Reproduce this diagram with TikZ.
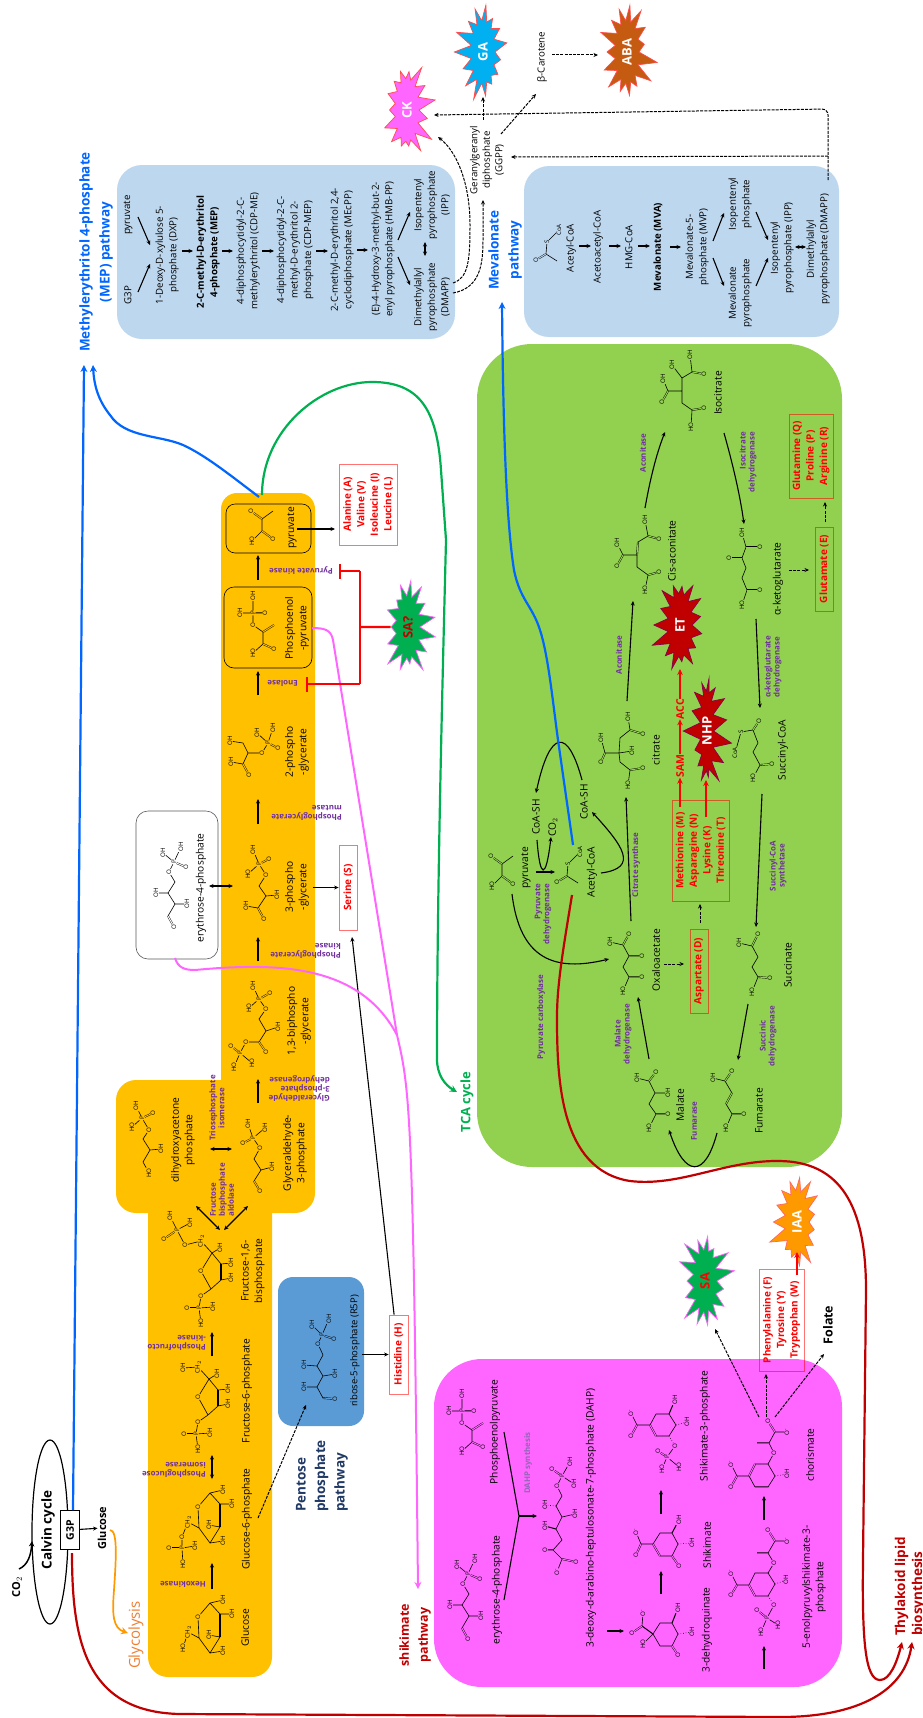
\documentclass[tikz,border=0pt]{standalone}
\usepackage{fontspec}
\setmainfont{Open Sans}
\usetikzlibrary{arrows.meta,shapes.symbols,shapes.geometric}
\definecolor{glyOrange}{HTML}{FFC000}
\definecolor{pppBlue}{HTML}{5B9BD5}
\definecolor{shikPink}{HTML}{FF66FF}
\definecolor{tcaGreen}{HTML}{92D050}
\definecolor{isoBlue}{HTML}{BDD7EE}
\definecolor{enzPurple}{HTML}{7030A0}
\definecolor{pathBlue}{HTML}{0066FF}
\definecolor{darkRed}{HTML}{C00000}
\definecolor{leafGreen}{HTML}{00B050}
\definecolor{navyText}{HTML}{1F3864}
\definecolor{glyText}{HTML}{ED7D31}
\definecolor{flowOrange}{HTML}{FF9900}
\definecolor{abaBrown}{HTML}{C55A11}
\definecolor{gaBlue}{HTML}{00B0F0}
\tikzset{
  %% Text of metabolites
  met/.style={rotate=90, font=\fontsize{10.2}{13.5}\selectfont, align=center, inner sep=0pt},
  metb/.style={met, font=\fontsize{11}{13.5}\selectfont\bfseries},
  mep/.style={met, font=\fontsize{9.7}{13.5}\selectfont},
  mepb/.style={met, font=\fontsize{9.7}{13.5}\selectfont\bfseries},
  %% Enzymes
  enzbase/.style={font=\fontsize{7.9}{9}\selectfont\bfseries, text=enzPurple, inner sep=0pt},
  enz/.style={enzbase, rotate=90, align=center},
  enzflip/.style={enzbase, rotate=180, anchor=west, align=left},
  %% Pathway titles
  title/.style={rotate=90, font=\fontsize{13.5}{20}\selectfont\bfseries, align=center, inner sep=0pt},
  %% Amino acid boxes
  aabox/.style={rotate=90, draw=red, draw opacity=.55, line width=.8pt, text=red, align=center, inner sep=0pt,
    font=\fontsize{10}{13.5}\selectfont\bfseries},
  %% Hormones
  hormone/.style={starburst, starburst points=15, starburst point height=19pt, rotate=90,
    minimum width=101pt, minimum height=62pt, inner sep=0pt, line width=.7pt, font=\fontsize{13}{13}\selectfont\bfseries},
  %% Atoms and bonds
  atomlab/.style={rotate=90, font=\fontsize{6.2}{6.5}\selectfont, inner sep=.3pt},
  bond/.style={line width=.6pt},
  dblbond/.style={line width=.4pt, double=\molbg, double distance=1pt},
  boldbond/.style={line width=1.7pt},
  %% Arrows
  metab/.style={-{Stealth[length=4.5pt,width=4pt]}, line width=1.1pt},
  metabb/.style={{Stealth[length=4.5pt,width=4pt]}-{Stealth[length=4.5pt,width=4pt]}, line width=1.1pt},
  dasharr/.style={-{Stealth[length=4.5pt,width=4pt]}, line width=1pt, dash pattern=on 3pt off 1.2pt},
  sigarr/.style={-{Stealth[length=6pt,width=5.5pt]}, red, line width=2pt},
  longarr/.style={-{Stealth[length=7pt,width=7pt]}, line width=2.2pt},
  inhib/.style={red, line width=2.2pt, -{Bar[width=15pt,line width=2.4pt]}},
}
\newcommand{\molpts}[1]{\foreach \nm/\x/\y in {#1} \coordinate (\nm) at (\x,\y);}
\newcommand{\molatoms}[1]{\foreach \nm/\x/\y/\lab in {#1} \node[atomlab] (\nm) at (\x,\y) {\lab};}
\newcommand{\rxn}[4][metab]{\coordinate (#2s) at (#3); \coordinate (#2e) at (#4); \draw[#1] (#2s) -- (#2e);}
%% pyruvate skeleton
\newcommand{\pyruvmol}[3]{\begin{scope}[shift={(#2,#3)}, name prefix=#1-]
  \molpts{c1/0/0,c2/0/-12,c3/11/-20}
  \molatoms{ho/-10/10/HO,o1/11/8/O,o2/-11/-20/O}
  \draw[bond] (ho)--(c1)--(c2)--(c3);
  \draw[dblbond] (c1)--(o1) (c2)--(o2);
\end{scope}}
%% phosphoenolpyruvate
\newcommand{\pepmol}[3]{\begin{scope}[shift={(#2,#3)}, name prefix=#1-]
  \molpts{c1/0/0,c2/0/-12,c3/11/-19}
  \molatoms{ho/-10/9/HO,o1/11/5/O,o2/-10/-19/O,p/-10/-31/P,oh1/-23/-31/OH,oh2/-10/-48/OH,o3/2/-31/O}
  \draw[bond] (ho)--(c1)--(c2)--(o2)--(p)--(oh1) (p)--(oh2);
  \draw[dblbond] (c1)--(o1) (c2)--(c3) (p)--(o3);
\end{scope}}
%% erythrose-4-phosphate
\newcommand{\efourmol}[3]{\begin{scope}[shift={(#2,#3)}, name prefix=#1-]
  \molpts{c1/-7/12,c2/0/0,c3/-7/-11,c4/0/-22}
  \molatoms{o1/-1/23/O,oh1/12/0/OH,oh2/-19/-11/OH,o2/-6/-32/O,p/-1/-42/P,oh3/-12/-51/OH,oh4/6/-57/OH,o3/11/-37/O}
  \draw[bond] (c1)--(c2)--(c3)--(c4)--(o2)--(p)--(oh3) (p)--(oh4) (c2)--(oh1) (c3)--(oh2);
  \draw[dblbond] (c1)--(o1) (p)--(o3);
\end{scope}}
%% acetyl-CoA
\newcommand{\acetylmol}[3]{\begin{scope}[shift={(#2,#3)}, name prefix=#1-]
  \molpts{c1/0/0,c2/11/7}
  \molatoms{o1/-10/6/O,s/1/-12/S,coa/13/-24/CoA}
  \draw[bond] (c2)--(c1)--(s)--(coa);
  \draw[dblbond] (c1)--(o1);
\end{scope}}
%% glucopyranose ring
\newcommand{\glucring}[3]{\begin{scope}[shift={(#2,#3)}, name prefix=#1-]
  \molpts{c1/12/-14,c2/22/-3,c3/22/20,c4/12/36,c5/1/21}
  \molatoms{o/0/0/O,oh1/25/-17/OH,oh2/34/-3/OH,oh3/11/18/OH,oh4/25/34/OH,ch/-10/15/CH$_2$}
  \draw[bond] (o)--(c1)--(c2) (c3)--(c4)--(c5)--(o) (c1)--(oh1) (c2)--(oh2) (c3)--(oh3) (c4)--(oh4) (c5)--(ch);
  \draw[boldbond] (c2)--(c3);
\end{scope}}
%% fructofuranose bisphosphate ring
\newcommand{\fructring}[3]{\begin{scope}[shift={(#2,#3)}, name prefix=#1-]
  \molpts{c2/11/-18,c3/20/-7,c4/20/9,c5/10/18}
  \molatoms{o/0/0/O,oh2/19/-23/OH,ch/0/-30/CH$_2$,oh3/30/-8/OH,oh4/30/7/OH,o1/0/25/O,p/-2/37/P,oh5/12/36/OH,o2/-14/37/O,ho/0/52/HO}
  \draw[bond] (o)--(c2)--(c3) (c4)--(c5)--(o) (c2)--(oh2) (c2)--(ch) (c3)--(oh3) (c4)--(oh4) (c5)--(o1)--(p)--(oh5) (p)--(ho);
  \draw[boldbond] (c3)--(c4);
  \draw[dblbond] (p)--(o2);
\end{scope}}
\begin{document}
\begin{tikzpicture}[x=1pt, y=-1pt]
\useasboundingbox (0,0) rectangle (923,1718);

%% Pathway boxes
\fill[glyOrange, rounded corners=16pt] (221,493) rectangle (315,1100);
\fill[glyOrange, rounded corners=20pt] (116,1080) rectangle (315,1213);
\fill[glyOrange, rounded corners=20pt] (148,1150) rectangle (272,1677);
\fill[pppBlue, rounded corners=15pt] (278,1277) rectangle (364,1426);
\fill[shikPink, rounded corners=48pt] (434,1359) rectangle (842,1687);
\fill[tcaGreen, rounded corners=55pt] (477,344) rectangle (842,1167);
\fill[isoBlue, rounded corners=25pt] (117,165) rectangle (455,339);
\fill[isoBlue, rounded corners=25pt] (524,166) rectangle (839,337);
\draw[line width=.6pt, rounded corners=10pt] (224,587) rectangle (312,668);
\draw[line width=.6pt, rounded corners=9pt] (226,504) rectangle (311,553);
\draw[gray!70!black, fill=white, line width=.6pt, rounded corners=12pt] (136,811) rectangle (218,959);

%% Calvin cycle
\node[draw, ellipse, line width=1.2pt, minimum width=36pt, minimum height=184pt, inner sep=0pt] (calvinLoop) at (50,1532) {};
\node[met, font=\fontsize{13.5}{13.5}\selectfont\bfseries] (calvinLab) at (48,1530) {Calvin cycle};
\node[draw, fill=white, rotate=90, minimum width=39pt, minimum height=19pt, inner sep=0pt, font=\fontsize{10.5}{10.5}\selectfont\bfseries] (gthree) at (70,1530) {G3P};
\node[metb] (cotwo) at (17,1587) {CO$_2$};
\coordinate (cotwoS) at (19,1569); \coordinate (cotwoEnd) at (32,1541);
\draw[-{Stealth[length=5.5pt,width=5.5pt]}, line width=1.5pt] (cotwoS) .. controls (28,1565) and (31,1555) .. (cotwoEnd);
\node[metb] (glucoseTop) at (102,1528) {Glucose};
\draw[metab] (gthree) -- (glucoseTop);
\coordinate (glyS) at (110,1530); \coordinate (glyE) at (128,1633);
\draw[flowOrange, longarr, line width=1.7pt] (glyS) .. controls (118,1530) and (116,1560) .. (114,1590) .. controls (112,1615) and (113,1628) .. (glyE);
\node[title, font=\fontsize{15}{16}\selectfont, text=glyText] (glyTitle) at (136,1635) {Glycolysis};

%% Titles
\node[title, text=pathBlue] (mepTitle) at (96,252) {Methylerythritol 4-phosphate\\(MEP) pathway};
\node[title, text=pathBlue] (mvaTitle) at (505,250) {Mevalonate\\pathway};
\node[title, text=navyText, font=\fontsize{13.5}{19.5}\selectfont\bfseries, align=left] (pppTitle) at (322,1476) {Pentose\\phosphate\\pathway};
\node[title, text=darkRed, font=\fontsize{12.5}{19}\selectfont\bfseries] (shikTitle) at (415,1635) {shikimate\\pathway};
\node[title, text=leafGreen, font=\fontsize{13}{16}\selectfont\bfseries] (tcaTitle) at (467,1102) {TCA cycle};
\node[title, text=darkRed, align=left, anchor=west, font=\fontsize{13.5}{17}\selectfont\bfseries] (thyTitle) at (910,1636) {Thylakoid lipid\\biosynthesis};

%% Glycolysis metabolites
\node[met] (glucose) at (245,1628) {Glucose};
\node[met] (gsixp) at (247,1519) {Glucose-6-phosphate};
\node[met] (fsixp) at (247,1391) {Fructose-6-phosphate};
\node[met] (fbp) at (253,1271) {Fructose-1,6-\\bisphosphate};
\node[met] (dhap) at (183,1140) {dihydroxyacetone\\phosphate};
\node[met] (gap) at (295,1153) {Glyceraldehyde-\\3-phosphate};
\node[met] (bpg) at (299,1021) {1,3-biphospho\\-glycerate};
\node[met] (pgthree) at (297,887) {3-phospho\\-glycerate};
\node[met] (pgtwo) at (297,752) {2-phospho\\-glycerate};
\node[met] (pepLab) at (297,628) {Phosphoenol\\-pyruvate};
\node[met] (pyrLab) at (292,528) {pyruvate};
\node[met] (efourLab) at (201,888) {erythrose-4-phosphate};
\node[met, font=\fontsize{9.5}{12}\selectfont] (rfive) at (355,1351) {ribose-5-phosphate (R5P)};

%% Glycolysis enzymes
\node[enzflip] (hexo) at (206,1584) {Hexokinase};
\node[enzflip] (pgi) at (206,1470) {Phosphoglucose\\isomerase};
\node[enzflip] (pfk) at (206,1343) {Phosphofructo\\-kinase};
\node[enz, align=left] (aldo) at (222,1190) {Fructose\\bisphosphate\\aldolase};
\node[enz] (tpi) at (217,1108) {Triosephosphate\\isomerase};
\node[enzflip] (gapdh) at (330,1089) {Glyceraldehyde\\3-phosphate\\dehydrogenase};
\node[enzflip] (pgk) at (341,951) {Phosphoglycerate\\kinase};
\node[enzflip] (pgm) at (342,813) {Phosphoglycerate\\mutase};
\node[enzflip] (enol) at (298,683) {Enolase};
\node[enzflip] (pyk) at (333,571) {Pyruvate kinase};

%% Glycolysis arrows
\rxn{hexoArr}{212,1589}{212,1563}
\rxn[metabb]{pgiArr}{212,1455}{212,1479}
\rxn{pfkArr}{212,1356}{212,1332}
\rxn[metabb]{aldoArrA}{220,1230}{196,1206}
\rxn[metabb]{aldoArrB}{224,1230}{248,1206}
\rxn[metabb]{tpiArr}{210,1149}{232,1149}
\rxn{gapdhArr}{258,1103}{258,1079}
\rxn{pgkArr}{258,961}{258,937}
\rxn{pgmArr}{258,824}{258,799}
\rxn{enolArr}{258,695}{258,671}
\rxn{pykArr}{258,580}{258,555}
\rxn[metabb]{efourArr}{209,886}{233,886}
\rxn[dasharr]{pppArr}{258,1518}{306,1405}

%% Amino acids next to glycolysis
\node[aabox, fill=white, minimum width=81pt, minimum height=58pt] (alaBox) at (368,504.5) {Alanine (A)\\Valine (V)\\Isoleucine (I)\\Leucine (L)};
\node[aabox, fill=white, minimum width=85pt, minimum height=18pt] (serBox) at (348,887.5) {Serine (S)};
\node[aabox, fill=white, minimum width=79pt, minimum height=19pt] (hisBox) at (398.5,1354.5) {Histidine (H)};
\rxn{alaArr}{297,529}{335,529}
\coordinate (serS) at (313,887.5);
\draw[metab] (serS) -- (serBox);
\coordinate (hisS) at (362,1354.5);
\draw[metab] (hisS) -- (hisBox);
\coordinate (hisE) at (352,937);
\draw[metab] (hisBox) -- (hisE);

%% Glycolysis molecules
\def\molbg{glyOrange}
\glucring{glc}{198}{1617}
\begin{scope}[name prefix=glc-]
  \molatoms{ho/183/1648/HO}
  \draw[bond] (ch)--(ho);
\end{scope}
\glucring{gsix}{198}{1507}
\begin{scope}[name prefix=gsix-]
  \molatoms{o6/182/1537/O,p/182/1548/P,o7/169/1548/O,oh6/195/1546/OH,ho/183/1564/HO}
  \draw[bond] (ch)--(o6)--(p)--(oh6) (p)--(ho);
  \draw[dblbond] (p)--(o7);
\end{scope}
\fructring{fsix}{198}{1397}
\begin{scope}[name prefix=fsix-]
  \molatoms{ho2/183/1368/OH}
  \draw[bond] (ch)--(ho2);
\end{scope}
\fructring{fbis}{201}{1271}
\begin{scope}[name prefix=fbis-]
  \molatoms{o6/185/1245/O,p6/177/1230/P,o7/164/1239/O,oh6/190/1223/OH,oh7/170/1216/OH}
  \draw[bond] (ch)--(o6)--(p6)--(oh6) (p6)--(oh7);
  \draw[dblbond] (p6)--(o7);
\end{scope}
\begin{scope}[name prefix=dhap-]
  \molpts{c1/143/1162,c2/150/1150,c3/143/1139}
  \molatoms{ho/149/1173/HO,oh/161/1149/OH,o1/149/1130/O,p/142/1118/P,ho2/132/1127/HO,oh2/136/1106/OH,o2/153/1113/O}
  \draw[bond] (ho)--(c1)--(c2)--(c3)--(o1)--(p)--(ho2) (p)--(oh2) (c2)--(oh);
  \draw[dblbond] (p)--(o2);
\end{scope}
\begin{scope}[name prefix=gap-]
  \molpts{c1/254/1181,c2/261/1170,c3/254/1159}
  \molatoms{o/260/1191/O,oh/272/1167/OH,o1/260/1148/O,p/253/1138/P,o2/243/1143/O,oh1/248/1124/OH,oh2/265/1128/OH}
  \draw[bond] (c1)--(c2)--(c3)--(o1)--(p)--(oh1) (p)--(oh2) (c2)--(oh);
  \draw[dblbond] (c1)--(o) (p)--(o2);
\end{scope}
\begin{scope}[name prefix=bpg-]
  \molpts{c1/259/1042,c2/266/1031,c3/259/1019}
  \molatoms{ho/234/1067/HO,p/240/1053/P,o/231/1046/O,ho2/252/1063/HO,o1/246/1042/O,o2/266/1052/O,oh/278/1027/OH,o3/266/1009/O,p2/259/999/P,ho3/249/1008/HO,oh2/253/986/OH,o4/270/993/O}
  \draw[bond] (ho)--(p)--(ho2) (p)--(o1)--(c1)--(c2)--(c3)--(o3)--(p2)--(ho3) (p2)--(oh2) (c2)--(oh);
  \draw[dblbond] (p)--(o) (c1)--(o2) (p2)--(o4);
\end{scope}
\begin{scope}[name prefix=pgt-]
  \molpts{c1/258/908,c2/266/896,c3/259/886}
  \molatoms{ho/246/906/OH,o2/264/919/O,oh/277/895/OH,o3/266/875/O,p/259/864/P,ho3/248/874/HO,oh2/253/850/OH,o4/269/859/O}
  \draw[bond] (ho)--(c1)--(c2)--(c3)--(o3)--(p)--(ho3) (p)--(oh2) (c2)--(oh);
  \draw[dblbond] (c1)--(o2) (p)--(o4);
\end{scope}
\begin{scope}[name prefix=pgs-]
  \molpts{c1/243/764,c2/248/753,c3/243/743}
  \molatoms{ho/231/762/OH,o2/249/775/O,oh/230/741/OH,o3/262/753/O,p/268/743/P,oh1/257/733/OH,oh2/273/728/OH,o4/278/748/O}
  \draw[bond] (ho)--(c1)--(c2)--(c3)--(oh) (c2)--(o3)--(p)--(oh1) (p)--(oh2);
  \draw[dblbond] (c1)--(o2) (p)--(o4);
\end{scope}
\pepmol{pepa}{263}{644}
\pyruvmol{pyra}{262}{531}
\def\molbg{pppBlue}
\begin{scope}[name prefix=rib-]
  \molpts{c1/323/1398,c2/317/1387,c3/323/1376,c4/317/1366,c5/323/1355}
  \molatoms{o/335/1399/O,oh2/304/1387/OH,oh3/335/1374/OH,oh4/304/1365/OH,o1/318/1344/O,p/322/1335/P,oh5/312/1325/OH,oh6/329/1319/OH,o2/334/1339/O}
  \draw[bond] (c1)--(c2)--(c3)--(c4)--(c5)--(o1)--(p)--(oh5) (p)--(oh6) (c2)--(oh2) (c3)--(oh3) (c4)--(oh4);
  \draw[dblbond] (c1)--(o) (p)--(o2);
\end{scope}
\def\molbg{white}
\efourmol{efa}{175}{904}

%% TCA cycle metabolites
\node[met] (tcaPyr) at (526,868) {pyruvate};
\node[met] (coaA) at (536,817) {CoA-SH};
\node[met] (coTwoB) at (553,827) {CO$_2$};
\node[met] (coaB) at (584,802) {CoA-SH};
\node[met] (acetyl) at (592,872) {Acetyl-CoA};
\node[met] (oaa) at (656,960) {Oxaloacetate};
\node[met] (citrate) at (656,750) {citrate};
\node[met] (cisAco) at (672,551) {Cis-aconitate};
\node[met] (isocit) at (718,393) {Isocitrate};
\node[met] (akgLab) at (778,579) {α-ketoglutarate};
\node[met] (succoa) at (783,750) {Succinyl-CoA};
\node[met] (succ) at (788,965) {Succinate};
\node[met] (fum) at (759,1111) {Fumarate};
\node[met] (mal) at (680,1105) {Malate};

%% TCA cycle enzymes
\node[enz, align=right] (pdh) at (543,914) {Pyruvate\\dehydrogenase};
\node[enz] (pcx) at (541,1017) {Pyruvate carboxylase};
\node[enz] (cs) at (636,865) {Citrate synthase};
\node[enz] (acoA) at (619,655) {Aconitase};
\node[enz] (acoB) at (643,453) {Aconitase};
\node[enz, align=right] (idh) at (748,462) {Isocitrate\\dehydrogenase};
\node[enz] (ogdh) at (773,667) {α-ketoglutarate\\dehydrogenase};
\node[enz] (scs) at (778,866) {Succinyl-CoA\\synthetase};
\node[enz] (sdh) at (768,1036) {Succinic\\dehydrogenase};
\node[enz] (fumEnz) at (694,1121) {Fumarase};
\node[enz] (mdh) at (623,1034) {Malate\\dehydrogenase};

%% TCA cycle arrows
\rxn{pdhArr}{536,872}{555,872}
\rxn{csArr}{631,921}{626,797}
\rxn{acoArrA}{627,701}{633,601}
\rxn{ogdhArr}{756,619}{760,708}
\rxn{scsArr}{762,794}{756,927}
\rxn{sdhArr}{748,1004}{738,1060}
\rxn{mdhArr}{649,1059}{638,997}
\coordinate (coaTurnS) at (537,840); \coordinate (coaTurnE) at (551,837);
\draw[metab] (coaTurnS) .. controls (540,880) and (546,880) .. (coaTurnE);
\coordinate (pcxS) at (512,894); \coordinate (pcxE) at (609,959);
\draw[metab] (pcxS) .. controls (520,960) and (555,972) .. (pcxE);
\coordinate (acS) at (601,873); \coordinate (acE) at (592,812);
\draw[metab] (acS) .. controls (640,868) and (622,845) .. (acE);
\coordinate (coaLoopS) at (582,780); \coordinate (coaLoopE) at (536,793);
\draw[metab] (coaLoopS) .. controls (568,728) and (550,728) .. (coaLoopE);
\coordinate (acoBS) at (645,508); \coordinate (acoBE) at (665,432);
\draw[metab] (acoBS) .. controls (650,480) and (656,455) .. (acoBE);
\coordinate (idhS) at (724,433); \coordinate (idhE) at (744,524);
\draw[metab] (idhS) .. controls (733,465) and (740,495) .. (idhE);
\coordinate (fumS) at (717,1133); \coordinate (fumE) at (669,1130);
\draw[metab] (fumS) .. controls (705,1178) and (685,1178) .. (fumE);

%% TCA cycle amino acids
\node[aabox, minimum width=84pt, minimum height=18pt] (aspBox) at (699,971) {Aspartate (D)};
\node[aabox, minimum width=101pt, minimum height=57pt] (methBox) at (700.5,850.5) {Methionine (M)\\Asparagine (N)\\Lysine (K)\\Threonine (T)};
\node[aabox, minimum width=84pt, minimum height=18pt] (gluBox) at (824,569) {Glutamate (E)};
\node[aabox, minimum width=84pt, minimum height=44pt] (glnBox) at (811,456) {Glutamine (Q)\\Proline (P)\\Arginine (R)};
\rxn[dasharr]{oaaArr}{664,964}{684,964}
\rxn[dasharr]{aspArr}{700,923}{700,904}
\rxn[dasharr]{akgArr}{789,570}{809,570}
\rxn[dasharr]{gluArr}{825,522}{825,502}

%% Hormones inside TCA
\node[text=red, font=\fontsize{10.5}{10.5}\selectfont\bfseries, rotate=90, inner sep=0pt] (sam) at (680,766) {SAM};
\node[text=red, font=\fontsize{10.5}{10.5}\selectfont\bfseries, rotate=90, inner sep=0pt] (acc) at (680,709) {ACC};
\node[hormone, fill=darkRed, draw=darkRed!70!blue, text=white, random starburst=11] (et) at (680,625) {ET};
\node[hormone, fill=darkRed, draw=darkRed!70!blue, text=white, random starburst=7, minimum width=118pt, minimum height=50pt] (nhp) at (707,731) {NHP};
\coordinate (samS) at (680,807); \draw[sigarr] (samS) -- (sam);
\draw[sigarr] (sam) -- (acc);
\coordinate (etE) at (680,669); \draw[sigarr] (acc) -- (etE);
\coordinate (nhpS) at (706,817); \coordinate (nhpE) at (706,780); \draw[sigarr] (nhpS) -- (nhpE);

%% TCA cycle molecules
\def\molbg{tcaGreen}
\pyruvmol{pyrb}{502}{876}
\acetylmol{aca}{567}{876}
\begin{scope}[name prefix=cit-]
  \molpts{c1/630/730,c2/620/738,c3/619/753,c4/605/753,c5/620/762,c6/630/770}
  \molatoms{oh1/628/717/OH,o1/643/734/O,oh2/632/751/OH,oh3/601/738/OH,o2/601/762/O,o3/643/768/O,oh4/628/785/HO}
  \draw[bond] (oh1)--(c1)--(c2)--(c3)--(c5)--(c6)--(oh4) (c3)--(c4)--(oh3) (c3)--(oh2);
  \draw[dblbond] (c1)--(o1) (c4)--(o2) (c6)--(o3);
\end{scope}
\begin{scope}[name prefix=cis-]
  \molpts{c1/648/536,c2/638/542,c3/637/555,c4/623/555,c5/637/567,c6/648/575}
  \molatoms{oh1/645/520/OH,o1/659/539/O,oh2/617/543/OH,o2/617/566/O,o3/659/572/O,ho/645/590/HO}
  \draw[bond] (oh1)--(c1)--(c2) (c3)--(c5)--(c6)--(ho) (c3)--(c4)--(oh2);
  \draw[dblbond] (c1)--(o1) (c2)--(c3) (c4)--(o2) (c6)--(o3);
\end{scope}
\begin{scope}[name prefix=iso-]
  \molpts{c1/692/372,c2/682/378,c3/682/391,c4/668/391,c5/682/403,c6/692/410}
  \molatoms{oh1/690/355/OH,o1/704/374/O,oh2/672/365/OH,oh3/663/379/OH,o2/662/402/O,o3/704/408/O,ho/691/427/HO}
  \draw[bond] (oh1)--(c1)--(c2)--(c3)--(c5)--(c6)--(ho) (c2)--(oh2) (c3)--(c4)--(oh3);
  \draw[dblbond] (c1)--(o1) (c4)--(o2) (c6)--(o3);
\end{scope}
\begin{scope}[name prefix=akg-]
  \molpts{c1/746/547,c2/742/558,c3/746/568,c4/742/578,c5/747/590}
  \molatoms{oh/742/533/OH,o1/760/547/O,o2/729/558/O,o3/760/590/O,ho/742/605/HO}
  \draw[bond] (oh)--(c1)--(c2)--(c3)--(c4)--(c5)--(ho);
  \draw[dblbond] (c1)--(o1) (c2)--(o2) (c5)--(o3);
\end{scope}
\begin{scope}[name prefix=suc-]
  \molpts{c1/753/730,c2/758/743,c3/753/752,c4/760/765}
  \molatoms{o1/759/721/O,s/741/732/S,coa/735/753/CoA,o2/772/764/O,ho/753/778/HO}
  \draw[bond] (coa)--(s)--(c1)--(c2)--(c3)--(c4)--(ho);
  \draw[dblbond] (c1)--(o1) (c4)--(o2);
\end{scope}
\begin{scope}[name prefix=sca-]
  \molpts{c1/752/946,c2/758/957,c3/752/967,c4/758/977}
  \molatoms{oh/739/943/OH,o1/758/934/O,o2/770/978/O,ho/752/992/HO}
  \draw[bond] (oh)--(c1)--(c2)--(c3)--(c4)--(ho);
  \draw[dblbond] (c1)--(o1) (c4)--(o2);
\end{scope}
\begin{scope}[name prefix=fma-]
  \molpts{c1/725/1081,c2/732/1093,c3/726/1104,c4/732/1114}
  \molatoms{oh/713/1078/OH,o1/732/1071/O,o2/744/1114/O,ho/726/1128/HO}
  \draw[bond] (oh)--(c1)--(c2) (c3)--(c4)--(ho);
  \draw[dblbond] (c1)--(o1) (c2)--(c3) (c4)--(o2);
\end{scope}
\begin{scope}[name prefix=mla-]
  \molpts{c1/649/1081,c2/655/1093,c3/649/1104,c4/656/1114}
  \molatoms{oh/637/1078/OH,o1/656/1072/O,oh2/668/1093/OH,o2/668/1114/O,ho/649/1128/HO}
  \draw[bond] (oh)--(c1)--(c2)--(c3)--(c4)--(ho) (c2)--(oh2);
  \draw[dblbond] (c1)--(o1) (c4)--(o2);
\end{scope}
\begin{scope}[name prefix=oxa-]
  \molpts{c1/623/945,c2/629/956,c3/623/967,c4/629/977}
  \molatoms{oh/610/942/OH,o1/629/934/O,o2/642/956/O,o3/642/977/O,ho/623/991/HO}
  \draw[bond] (oh)--(c1)--(c2)--(c3)--(c4)--(ho);
  \draw[dblbond] (c1)--(o1) (c2)--(o2) (c4)--(o3);
\end{scope}

%% Shikimate metabolites
\node[met] (efourShik) at (497,1590) {erythrose-4-phosphate};
\node[met] (pepShik) at (495,1432) {Phosphoenolpyruvate};
\node[met] (dahpLab) at (591,1518) {3-deoxy-d-arabino-heptulosonate-7-phosphate (DAHP)};
\node[met] (dhq) at (707,1630) {3-dehydroquinate};
\node[met] (shik) at (707,1545) {Shikimate};
\node[met] (sthree) at (705,1426) {Shikimate-3-phosphate};
\node[met] (epsp) at (814,1587) {5-enolpyruvylshikimate-3-\\phosphate};
\node[met] (chor) at (810,1455) {chorismate};
\node[enz, text=enzPurple!75!white] (dahps) at (528,1463) {DAHP synthesis};
\node[metb, font=\fontsize{12.5}{13}\selectfont\bfseries] (folate) at (828,1325) {Folate};

%% Shikimate arrows
\molpts{dahpJoin/519/1516,eJoin/504/1600,pJoin/504/1432,dahpEnd/537/1516}
\draw[line width=1.1pt] (eJoin) -- (dahpJoin) -- (pJoin);
\draw[metab] (dahpJoin) -- (dahpEnd);
\rxn{dhqArrA}{607,1631}{624,1631}
\rxn{shikArrA}{661,1594}{661,1571}
\rxn{shikArrB}{661,1514}{661,1490}
\rxn{shikArrC}{764,1669}{764,1646}
\rxn{shikArrD}{764,1520}{764,1496}

\node[aabox, minimum width=102pt, minimum height=45pt] (pheBox) at (781.5,1320) {Phenylalanine (F)\\Tyrosine (Y)\\Tryptophan (W)};
\node[hormone, fill=leafGreen, draw=shikPink, text=red, random starburst=3] (sa) at (705,1281) {SA};
\node[hormone, fill=flowOrange, draw=red!60, text=white, random starburst=5] (iaa) at (797,1222) {IAA};
\rxn[dasharr]{saArr}{759,1417}{715,1329}
\rxn[dasharr]{pheArr}{766,1417}{766,1374}
\rxn[dasharr]{folArr}{775,1417}{824,1354}
\coordinate (iaaS) at (797,1275); \coordinate (iaaE) at (797,1252); \draw[sigarr] (iaaS) -- (iaaE);

%% Shikimate molecules
\def\molbg{shikPink}
\efourmol{efb}{469}{1616}
\pepmol{pepb}{472}{1442}
\begin{scope}[name prefix=dahp-]
  \molpts{c1/562/1559,c2/553/1550,c3/562/1540,c4/556/1529,c5/562/1517,c6/556/1506,c7/562/1496}
  \molatoms{om/557/1572/O\textsuperscript{-},o1/576/1562/O,o2/545/1550/O,oh1/545/1526/OH,oh2/575/1514/OH,oh3/545/1505/OH,o3/557/1486/O,p/562/1476/P,o4/552/1469/O,oh4/570/1462/OH,oh5/574/1484/OH}
  \draw[bond] (om)--(c1)--(c2)--(c3)--(c4)--(c5)--(c6)--(c7)--(o3)--(p)--(oh4) (p)--(oh5) (c5)--(oh2);
  \draw[boldbond, line width=1pt] (c4)--(oh1);
  \draw[bond, dotted] (c6)--(oh3);
  \draw[dblbond] (c1)--(o1) (c2)--(o2) (p)--(o4);
\end{scope}
\begin{scope}[name prefix=dhq-]
  \molpts{v1/653/1634,v2/660/1623,v3/672/1623,v4/678/1634,v5/672/1646,v6/660/1646,cc/642/1626}
  \molatoms{ho/643/1644/HO,o1/632/1633/O,om/643/1613/O\textsuperscript{-},oh1/678/1608/OH,oh2/692/1632/OH,o2/678/1655/O}
  \draw[bond] (v1)--(v2)--(v3)--(v4)--(v5)--(v6)--(v1)--(ho) (cc)--(om);
  \draw[boldbond, line width=1pt] (v1)--(cc) (v3)--(oh1);
  \draw[bond, dotted] (v4)--(oh2);
  \draw[dblbond] (cc)--(o1) (v5)--(o2);
\end{scope}
\begin{scope}[name prefix=skm-]
  \molpts{v1/653/1544,v2/660/1533,v3/672/1533,v4/678/1544,v5/672/1556,v6/660/1556,cc/641/1544}
  \molatoms{o1/636/1555/O,om/636/1532/O\textsuperscript{-},oh1/679/1520/OH,oh2/692/1543/OH,o2/679/1566/O}
  \draw[bond] (v1)--(v2)--(v3)--(v4)--(v5)--(v6) (v1)--(cc)--(om);
  \draw[boldbond, line width=1pt] (v3)--(oh1);
  \draw[bond, dotted] (v4)--(oh2);
  \draw[dblbond] (cc)--(o1) (v5)--(o2) (v6)--(v1);
\end{scope}
\begin{scope}[name prefix=sth-]
  \molpts{v1/650/1425,v2/656/1414,v3/669/1414,v4/676/1425,v5/669/1436,v6/656/1436,cc/637/1425}
  \molatoms{o1/631/1436/O,om/631/1413/O\textsuperscript{-},oh1/675/1400/OH,oh2/687/1422/OH,o2/675/1446/O,p/667/1457/P,o3/658/1451/O,ho1/662/1469/HO,ho2/679/1467/HO}
  \draw[bond] (v1)--(v2)--(v3)--(v4)--(v5)--(v6) (v1)--(cc)--(om) (o2)--(p)--(ho1) (p)--(ho2);
  \draw[boldbond, line width=1pt] (v3)--(oh1);
  \draw[bond, dotted] (v4)--(oh2) (v5)--(o2);
  \draw[dblbond] (cc)--(o1) (v6)--(v1) (p)--(o3);
\end{scope}
\begin{scope}[name prefix=eps-]
  \molpts{v1/749/1585,v2/755/1573,v3/768/1573,v4/775/1584,v5/768/1596,v6/755/1596,cc/737/1585,e1/768/1553,e2/757/1553,e3/775/1541}
  \molatoms{o1/731/1595/O,om/731/1573/O\textsuperscript{-},o3/774/1563/O,o4/768/1530/O,om2/787/1541/O\textsuperscript{-},oh/786/1580/OH,o5/774/1605/O,p/767/1618/P,o6/757/1610/O,ho1/761/1632/HO,ho2/778/1625/HO}
  \draw[bond] (v1)--(v2)--(v3)--(v4)--(v5)--(v6) (v1)--(cc)--(om) (v3)--(o3)--(e1)--(e3)--(om2) (o5)--(p)--(ho1) (p)--(ho2);
  \draw[bond, dotted] (v4)--(oh) (v5)--(o5);
  \draw[dblbond] (cc)--(o1) (v6)--(v1) (e1)--(e2) (e3)--(o4) (p)--(o6);
\end{scope}
\begin{scope}[name prefix=cho-]
  \molpts{v1/749/1476,v2/755/1464,v3/768/1464,v4/775/1476,v5/768/1487,v6/755/1487,cc/737/1476,e1/769/1443,e2/757/1443,e3/775/1432}
  \molatoms{o1/731/1487/O,om/731/1464/O\textsuperscript{-},oh/787/1474/OH,o3/774/1453/O,o4/768/1421/O,om2/787/1432/O\textsuperscript{-}}
  \draw[bond] (v1)--(v6) (v2)--(v3)--(v4)--(v5) (v1)--(cc)--(om) (v3)--(o3)--(e1)--(e3)--(om2);
  \draw[bond, dotted] (v4)--(oh);
  \draw[dblbond] (cc)--(o1) (v1)--(v2) (v5)--(v6) (e1)--(e2) (e3)--(o4);
\end{scope}

%% MEP pathway
\node[mep] (gthreeMep) at (128,295) {G3P};
\node[mep] (pyrMep) at (128,215) {pyruvate};
\node[mep] (dxp) at (167,255) {1-Deoxy-D-xylulose 5-\\phosphate (DXP)};
\node[mepb] (mepLab) at (208,252) {2-C-methyl-D-erythritol\\4-phosphate (MEP)};
\node[mep] (cdpme) at (248,251) {4-diphosphocytidyl-2-C-\\methylerythritol (CDP-ME)};
\node[mep] (cdpmep) at (295,250) {4-diphosphocytidyl-2-C-\\methyl-D-erythritol 2-\\phosphate (CDP-MEP)};
\node[mep] (mecpp) at (342,250) {2-C-methyl-D-erythritol 2,4-\\cyclodiphosphate (MEcPP)};
\node[mep] (hmbpp) at (383,249) {(E)-4-Hydroxy-3-methyl-but-2-\\enyl pyrophosphate (HMB-PP)};
\node[mep] (ippMep) at (432,205) {Isopentenyl\\pyrophosphate\\(IPP)};
\node[mep] (dmappMep) at (432,297) {Dimethylallyl\\pyrophosphate\\(DMAPP)};
\rxn{mepA}{138,292}{150,264}
\rxn{mepB}{138,217}{150,245}
\rxn{mepC}{182,251}{193,251}
\rxn{mepD}{222,251}{233,251}
\rxn{mepE}{262,251}{274,251}
\rxn{mepF}{316,251}{328,251}
\rxn{mepG}{357,250}{368,250}
\rxn{mepH}{398,240}{410,212}
\rxn{mepI}{398,257}{410,285}
\rxn[metabb]{mepJ}{425,242}{425,256}

%% Mevalonate pathway
\def\molbg{isoBlue}
\acetylmol{acb}{546}{254}
\node[mep] (acMva) at (571,248) {Acetyl-CoA};
\node[mep] (aacMva) at (598,247) {Acetoacetyl-CoA};
\node[mep] (hmg) at (629,247) {HMG-CoA};
\node[mepb] (mva) at (658,247) {Mevalonate (MVA)};
\node[mep] (mvp) at (697,247) {Mevalonate-5-\\phosphate (MVP)};
\node[mep] (ipMva) at (740,204) {Isopentenyl\\phosphate};
\node[mep] (mvpp) at (740,293) {Mevalonate\\pyrophosphate};
\node[mep] (ippMva) at (782,248) {Isopentenyl\\pyrophosphate (IPP)};
\node[mep] (dmappMva) at (818,249) {Dimethylallyl\\pyrophosphate (DMAPP)};
\rxn{mvaA}{579,246}{591,246}
\rxn{mvaB}{609,246}{621,246}
\rxn{mvaC}{638,246}{650,246}
\rxn{mvaD}{670,247}{681,247}
\rxn{mvaE}{713,241}{724,213}
\rxn{mvaF}{713,258}{724,286}
\rxn{mvaG}{756,212}{768,240}
\rxn{mvaH}{756,286}{768,258}
\rxn[metabb]{mvaI}{795,247}{806,247}

%% Isoprenoid hormones
\node[hormone, fill=shikPink, draw=red!70, text=white, random starburst=13] (ck) at (407,110) {CK};
\node[hormone, fill=gaBlue, draw=red!70, text=white, random starburst=17] (ga) at (483,52) {GA};
\node[hormone, fill=abaBrown, draw=red!70, text=white, random starburst=19] (aba) at (627,52) {ABA};
\node[met, font=\fontsize{9.7}{12.5}\selectfont] (ggpp) at (487,160) {Geranylgeranyl\\diphosphate\\(GGPP)};
\node[met, font=\fontsize{9.7}{12.5}\selectfont] (carot) at (542,57) {β-Carotene};
\rxn[dasharr]{carotArr}{552,55}{598,55}
\rxn[dasharr]{gaArr}{483,120}{483,97}
\rxn[dasharr]{betaArr}{501,134}{536,94}
\molpts{mvaOut/828/180,mvaCorner/828/109,mvaCk/434/115,mvaTurn/828/156,mvaGgpp/511/157}
\draw[dasharr, rounded corners=6pt] (mvaOut) -- (mvaCorner) -- (mvaCk);
\draw[dasharr, rounded corners=6pt] (mvaTurn) -- (mvaGgpp);
\molpts{mepOutA/453/283,mepCk/438/137,mepOutB/453/293,mepGgpp/483/200}
\draw[dasharr] (mepOutA) .. controls (468,278) and (470,262) .. (470,225) .. controls (470,180) and (455,150) .. (mepCk);
\draw[dasharr] (mepOutB) .. controls (480,288) and (483,265) .. (483,240) -- (mepGgpp);

%% Long connectors
\molpts{blueStart/73/1510,mepTipA/84/365,mepTipB/93/365,pyrOut/259/497,greenOut/262/495,tcaTip/457/1092,mvaTip/502/302,acOut/573/845,acRed/572/895,thyTipA/902/1642,thyTipB/912/1642,redStart/72/1553,pinkA/312/628,pinkB/175/958,shikTip/418/1589,pinkJoin/397/1035}
\draw[pathBlue, longarr] (blueStart) -- (mepTipA);
\draw[pathBlue, longarr] (pyrOut) .. controls (230,475) and (205,455) .. (183,445) .. controls (160,435) and (125,438) .. (110,415) .. controls (98,400) and (94,385) .. (mepTipB);
\draw[leafGreen, longarr] (greenOut) .. controls (262,430) and (320,382) .. (372,382) .. controls (420,382) and (437,410) .. (441,470) -- (446,540) .. controls (442,700) and (437,900) .. (437,1059) .. controls (437,1075) and (445,1085) .. (tcaTip);
\draw[pathBlue, longarr] (acOut) -- (558,740) .. controls (552,695) and (548,655) .. (540,630) .. controls (532,605) and (520,600) .. (514,570) .. controls (506,520) and (503,420) .. (mvaTip);
\draw[shikPink, longarr, line width=2pt] (pinkA) .. controls (325,628) and (331,630) .. (333,640) -- (pinkJoin) .. controls (410,1090) and (413,1110) .. (shikTip);
\draw[shikPink, line width=2pt] (pinkB) .. controls (178,968) and (185,970) .. (195,970) .. controls (280,962) and (360,965) .. (pinkJoin);
\draw[darkRed, longarr] (redStart) .. controls (72,1640) and (85,1712) .. (180,1714) -- (780,1717) .. controls (860,1717) and (905,1690) .. (thyTipB);
\draw[darkRed, longarr] (acRed) .. controls (563,950) and (557,985) .. (557,1017) .. controls (557,1080) and (560,1170) .. (630,1181) .. controls (680,1187) and (725,1160) .. (780,1161) .. controls (840,1162) and (866,1205) .. (866,1290) -- (863,1560) .. controls (862,1640) and (865,1680) .. (880,1680) .. controls (890,1680) and (897,1662) .. (thyTipA);

%% SA? and inhibition
\node[hormone, fill=leafGreen, draw=shikPink, text=darkRed, random starburst=23] (saq) at (408,627) {SA?};
\molpts{hub/360/627,hubTop/360/571,hubBot/360/684,pykBar/339/571,enoBar/306/684}
\draw[red, line width=2.2pt] (saq) -- (hub);
\draw[inhib] (hubTop) -- (pykBar);
\draw[inhib] (hubBot) -- (enoBar);
\draw[red, line width=2.2pt] (hubTop) -- (hubBot);
\end{tikzpicture}
\end{document}
